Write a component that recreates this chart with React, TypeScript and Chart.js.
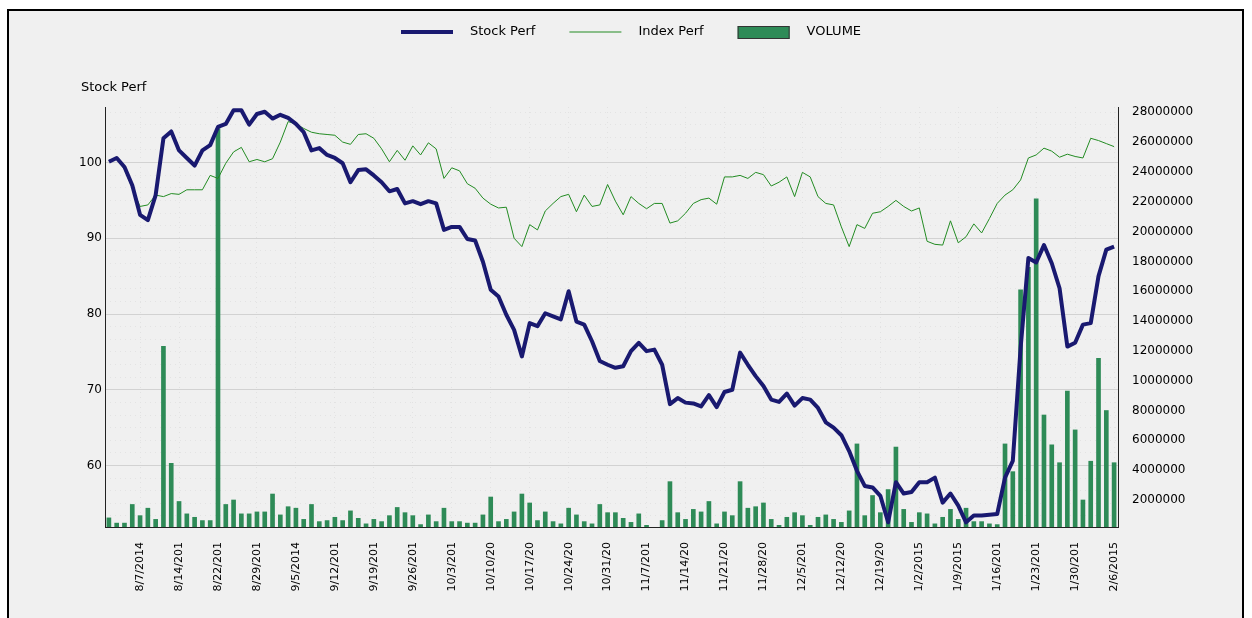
import { useEffect, useRef } from 'react';
import { Chart, registerables } from 'chart.js';

Chart.register(...registerables);

// Tick labels shown under the x axis (every 5th trading day, starting at index 4)
const tickLabels = [
  '8/7/2014', '8/14/201', '8/22/201', '8/29/201', '9/5/2014', '9/12/201', '9/19/201',
  '9/26/201', '10/3/201', '10/10/20', '10/17/20', '10/24/20', '10/31/20', '11/7/201',
  '11/14/20', '11/21/20', '11/28/20', '12/5/201', '12/12/20', '12/19/20', '1/2/2015',
  '1/9/2015', '1/16/201', '1/23/201', '1/30/201', '2/6/2015',
];
const FIRST_LABEL = 4;
const LABEL_STEP = 5;

const stockPerf = [
  100.1, 100.6, 99.4, 97.0, 93.1, 92.4, 95.7, 103.2, 104.1, 101.6,
  100.6, 99.6, 101.6, 102.3, 104.7, 105.1, 106.9, 106.9, 105.0, 106.4,
  106.7, 105.8, 106.3, 105.9, 105.1, 104.0, 101.6, 101.9, 101.0, 100.6,
  99.9, 97.4, 99.0, 99.1, 98.3, 97.4, 96.2, 96.5, 94.6, 94.9,
  94.5, 94.9, 94.6, 91.1, 91.5, 91.5, 89.9, 89.7, 86.9, 83.2,
  82.3, 79.9, 77.9, 74.4, 78.8, 78.4, 80.1, 79.7, 79.3, 83.0,
  79.0, 78.6, 76.4, 73.8, 73.3, 72.9, 73.1, 75.1, 76.2, 75.1,
  75.3, 73.3, 68.1, 68.9, 68.3, 68.2, 67.8, 69.3, 67.7, 69.7,
  70.0, 74.9, 73.3, 71.8, 70.5, 68.7, 68.4, 69.5, 67.9, 68.9,
  68.7, 67.6, 65.7, 65.0, 64.0, 61.9, 59.3, 57.3, 57.1, 56.0,
  52.5, 57.8, 56.3, 56.5, 57.8, 57.8, 58.4, 55.1, 56.3, 54.7,
  52.5, 53.4, 53.4, 53.5, 53.6, 58.4, 60.6, 75.5, 87.4, 86.8,
  89.1, 86.7, 83.4, 75.7, 76.2, 78.6, 78.8, 85.0, 88.5, 88.9,
];

const indexPerf = [
  100.3, 100.5, 99.1, 96.6, 94.2, 94.4, 95.7, 95.5, 95.9, 95.8,
  96.4, 96.4, 96.4, 98.3, 97.9, 99.9, 101.4, 102.0, 100.1, 100.4,
  100.1, 100.5, 102.7, 105.4, 105.1, 104.5, 104.0, 103.8, 103.7, 103.6,
  102.7, 102.4, 103.7, 103.8, 103.2, 101.8, 100.1, 101.6, 100.3, 102.2,
  101.0, 102.6, 101.8, 97.9, 99.3, 98.9, 97.2, 96.6, 95.3, 94.5,
  94.0, 94.1, 90.0, 88.9, 91.8, 91.1, 93.6, 94.6, 95.5, 95.8,
  93.5, 95.7, 94.2, 94.4, 97.1, 94.9, 93.1, 95.5, 94.6, 93.9,
  94.6, 94.6, 92.0, 92.3, 93.3, 94.6, 95.1, 95.3, 94.5, 98.1,
  98.1, 98.3, 97.9, 98.7, 98.4, 96.9, 97.4, 98.1, 95.5, 98.7,
  98.1, 95.5, 94.6, 94.4, 91.5, 88.9, 91.8, 91.3, 93.3, 93.5,
  94.2, 95.0, 94.2, 93.6, 94.0, 89.6, 89.2, 89.1, 92.3, 89.4,
  90.2, 91.9, 90.7, 92.6, 94.6, 95.7, 96.4, 97.7, 100.6, 101.0,
  101.9, 101.5, 100.7, 101.1, 100.8, 100.6, 103.2, 102.9, 102.5, 102.1,
];

const volume = [
  800000, 450000, 450000, 1700000, 950000, 1450000, 700000, 12300000, 4460000, 1900000,
  1070000, 840000, 620000, 620000, 26900000, 1700000, 2000000, 1070000, 1070000, 1200000,
  1200000, 2400000, 1000000, 1550000, 1450000, 700000, 1700000, 550000, 620000, 840000,
  620000, 1270000, 770000, 400000, 700000, 550000, 950000, 1500000, 1150000, 950000,
  350000, 1000000, 550000, 1450000, 550000, 550000, 450000, 450000, 1000000, 2200000,
  550000, 700000, 1200000, 2400000, 1800000, 620000, 1200000, 550000, 400000, 1450000,
  1000000, 550000, 400000, 1700000, 1150000, 1150000, 770000, 500000, 1070000, 300000,
  100000, 620000, 3230000, 1150000, 700000, 1370000, 1200000, 1900000, 400000, 1200000,
  950000, 3230000, 1450000, 1550000, 1800000, 700000, 300000, 840000, 1150000, 950000,
  300000, 840000, 1000000, 700000, 500000, 1270000, 5760000, 950000, 2300000, 1150000,
  2700000, 5550000, 1370000, 500000, 1150000, 1070000, 400000, 840000, 1370000, 700000,
  1450000, 550000, 550000, 400000, 350000, 5760000, 3900000, 16100000, 17600000, 22200000,
  7700000, 5700000, 4500000, 9300000, 6700000, 2000000, 4600000, 11500000, 8000000, 4500000,
];

const leftTicks = [60, 70, 80, 90, 100];
const rightTicks = [2000000, 4000000, 6000000, 8000000, 10000000, 12000000, 14000000,
  16000000, 18000000, 20000000, 22000000, 24000000, 26000000, 28000000];

const categories = stockPerf.map((_, i) =>
  i >= FIRST_LABEL && (i - FIRST_LABEL) % LABEL_STEP === 0
    ? tickLabels[(i - FIRST_LABEL) / LABEL_STEP] || ''
    : ''
);

const FONT = '"DejaVu Sans", "Liberation Sans", sans-serif';
const AXIS_TITLE = 'Stock Perf';

const overlayPlugin = {
  id: 'overlay',
  afterDraw(chart: any) {
    const { ctx, chartArea } = chart;
    ctx.save();
    ctx.font = `13px ${FONT}`;
    ctx.fillStyle = '#000';
    ctx.textBaseline = 'middle';
    ctx.textAlign = 'left';
    ctx.fillText(AXIS_TITLE, chartArea.left - 24, chartArea.top - 19);

    let x = 392;
    const y = 21;
    const sampleW = 52;
    chart.data.datasets.forEach((ds: any) => {
      if (ds.type === 'line') {
        ctx.beginPath();
        ctx.strokeStyle = ds.borderColor;
        ctx.lineWidth = ds.borderWidth;
        ctx.moveTo(x, y);
        ctx.lineTo(x + sampleW, y);
        ctx.stroke();
      } else {
        ctx.fillStyle = ds.backgroundColor;
        ctx.fillRect(x, y - 6, sampleW, 13);
        ctx.strokeStyle = '#333';
        ctx.lineWidth = 1;
        ctx.strokeRect(x + 0.5, y - 5.5, sampleW - 1, 12);
      }
      ctx.fillStyle = '#000';
      ctx.fillText(ds.label, x + sampleW + 17, y);
      x += sampleW + 17 + ctx.measureText(ds.label).width + 34;
    });
    ctx.restore();
  },
};

export default function App() {
  const ref = useRef<HTMLCanvasElement>(null);

  useEffect(() => {
    document.body.style.overflow = 'hidden';
    const Y_MIN = 51.88;
    const Y_MAX = 107.33;
    const chart = new Chart(ref.current as HTMLCanvasElement, {
      type: 'bar',
      data: {
        labels: categories,
        datasets: [
          {
            type: 'line',
            label: 'Stock Perf',
            data: stockPerf,
            borderColor: '#191970',
            backgroundColor: '#191970',
            borderWidth: 4,
            pointRadius: 0,
            tension: 0,
            borderJoinStyle: 'round',
            yAxisID: 'y',
            order: 0,
          },
          {
            type: 'line',
            label: 'Index Perf',
            data: indexPerf,
            borderColor: '#228B22',
            backgroundColor: '#228B22',
            borderWidth: 1,
            pointRadius: 0,
            tension: 0,
            yAxisID: 'y',
            order: 1,
          },
          {
            type: 'bar',
            label: 'VOLUME',
            data: volume,
            backgroundColor: '#2E8B57',
            borderWidth: 0,
            barThickness: 4,
            yAxisID: 'y1',
            order: 2,
          },
        ],
      } as any,
      options: {
        responsive: false,
        animation: false,
        events: [],
        layout: { padding: { top: 96, left: 0, right: 0, bottom: 0 } },
        plugins: {
          legend: { display: false },
          title: { display: false },
          tooltip: { enabled: false },
        },
        scales: {
          x: {
            type: 'category',
            offset: true,
            grid: {
              offset: false,
              drawTicks: false,
              color: (c: any) => (categories[c.index] ? '#e2e2e2' : 'rgba(0,0,0,0)'),
            },
            border: { display: true, color: '#222', dash: [1, 4] },
            ticks: {
              autoSkip: false,
              minRotation: 90,
              maxRotation: 90,
              padding: 15,
              color: '#000',
              font: { family: FONT, size: 11 },
            },
            afterFit: (s: any) => { s.height = 84; },
          },
          yMinor: {
            position: 'left',
            min: Y_MIN,
            max: Y_MAX,
            afterBuildTicks: (s: any) => {
              const t: any[] = [];
              for (let n = 31; n <= 65; n++) {
                const v = (n * 10) / 6;
                if (n % 6 !== 0 && v > Y_MIN && v < Y_MAX) t.push({ value: v });
              }
              s.ticks = t;
            },
            ticks: { display: false },
            grid: { drawTicks: false, color: '#e3e3e3' },
            border: { display: false, dash: [1, 4] },
            afterFit: (s: any) => { s.width = 0; },
          },
          y: {
            position: 'left',
            min: Y_MIN,
            max: Y_MAX,
            afterBuildTicks: (s: any) => { s.ticks = leftTicks.map((v) => ({ value: v })); },
            grid: { drawTicks: false, color: '#d2d2d2' },
            border: { display: true, color: '#222' },
            ticks: {
              padding: 3,
              color: '#000',
              font: { family: FONT, size: 12 },
              callback: (v: any) => String(v),
            },
            afterFit: (s: any) => { s.width = 96; },
          },
          y1: {
            position: 'right',
            min: 189000,
            max: 28355000,
            afterBuildTicks: (s: any) => { s.ticks = rightTicks.map((v) => ({ value: v })); },
            grid: { display: false, drawTicks: false },
            border: { display: true, color: '#222' },
            ticks: {
              padding: 14,
              color: '#000',
              font: { family: FONT, size: 12 },
              callback: (v: any) => String(v),
            },
            afterFit: (s: any) => { s.width = 124; },
          },
        },
      } as any,
      plugins: [overlayPlugin],
    });
    return () => chart.destroy();
  }, []);

  return (
    <div
      style={{
        position: 'fixed',
        left: 7,
        top: 9,
        width: 1237,
        height: 640,
        boxSizing: 'border-box',
        border: '2px solid #000',
        background: '#f0f0f0',
      }}
    >
      <canvas ref={ref} width={1233} height={600} style={{ display: 'block' }} />
    </div>
  );
}
